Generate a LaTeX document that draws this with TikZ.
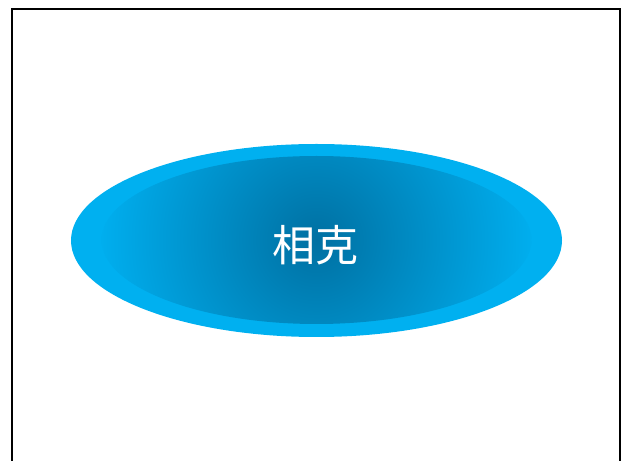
\documentclass[tikz,border=0pt]{standalone}
\usepackage{fontspec}
\newfontfamily\cjk{Noto Sans CJK SC}
\definecolor{outerblue}{RGB}{0,176,240}
\definecolor{edgeblue}{RGB}{0,174,238}
\definecolor{coreblue}{RGB}{0,112,162}
\pgfdeclareradialshading{ellshade}{\pgfpoint{0bp}{0bp}}{color(0bp)=(coreblue); color(25bp)=(edgeblue); color(50bp)=(edgeblue)}
\begin{document}
\begin{tikzpicture}[x=1pt,y=1pt,
  frame/.style={draw=black,line width=2pt},
  outerell/.style={fill=outerblue,draw=none},
  innerell/.style={shading=ellshade,draw=none},
  label/.style={text=white,font=\cjk\fontsize{43}{50}\selectfont,inner sep=0pt}]
\useasboundingbox (0,0) rectangle (622,461);
\draw[frame] (12,452) rectangle (620,-10);
\fill[outerell] (316.5,220.5) ellipse [x radius=245.5, y radius=96.5];
\begin{scope}
  \clip (316.5,221) ellipse [x radius=215, y radius=84];
  \shade[innerell] (316.5,221) circle [radius=215];
\end{scope}
\node[label] (t) at (315,216) {相克};
\end{tikzpicture}
\end{document}
